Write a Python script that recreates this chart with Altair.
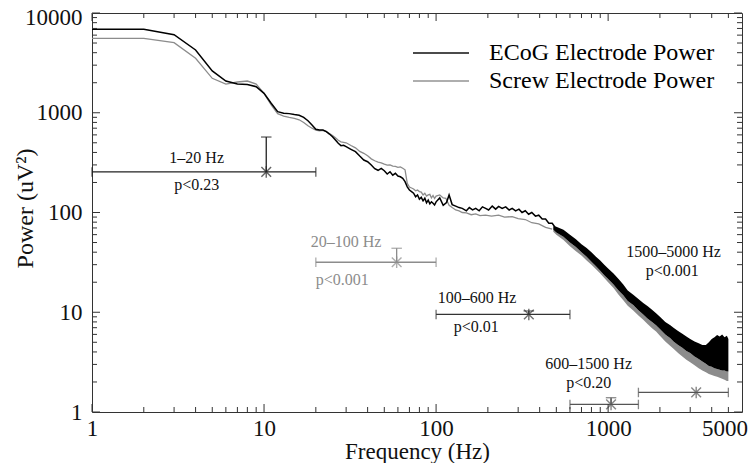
import altair as alt
import pandas as pd

# ---------------- data ----------------
ecog_freq = [1, 2, 3, 4, 5, 6, 7, 8, 9, 10, 11, 12, 13, 14, 15, 16, 17, 18, 19, 20,
             21, 22, 23, 24, 25, 26, 27, 28, 29, 30,
             32, 34, 36, 38, 40, 42, 44, 46, 48, 50, 52, 54, 56, 58, 60, 62, 64, 66, 68, 70,
             72, 74, 76, 78, 80, 82, 84, 86, 88, 90, 92, 94, 96, 98, 100,
             105, 110, 115, 119, 124, 130, 136, 142, 150, 156, 163, 170, 178, 186, 194, 202,
             212, 222, 231, 242, 254, 266, 277, 290, 303, 316, 330, 345, 360, 378, 395, 414,
             433, 452, 473, 495]
ecog_power = [6870, 6870, 6060, 4260, 2625, 2080, 1940, 1920, 1825, 1566, 1245, 1025, 987, 980,
              958, 945, 900, 832, 754, 683, 672, 671, 646, 612, 575, 533, 494, 468, 472, 457,
              430, 407, 368, 336, 323, 299, 275, 265, 277, 262, 243, 256, 237, 247, 232, 228,
              220, 204, 181, 168, 162, 156, 144, 150, 136, 142, 131, 139, 125, 133, 122, 128,
              124, 119, 128,
              140, 118, 126, 150, 120, 116, 112, 110, 104, 112, 106, 110, 104, 114, 110, 106,
              116, 108, 115, 110, 114, 106, 110, 104, 108, 100, 104, 96, 100, 92, 94, 86,
              86, 78, 78, 70]

screw_freq = [1, 2, 3, 4, 5, 6, 7, 8, 9, 10, 11, 12, 13, 14, 15, 16, 17, 18, 19, 20,
              21, 22, 23, 24, 25, 26, 27, 28, 29, 30,
              32, 34, 36, 38, 40, 42, 44, 46, 48, 50, 52, 54, 56, 58, 60, 62, 64, 66, 68, 70,
              72, 74, 76, 78, 80, 82, 84, 86, 88, 90, 92, 94, 96, 98, 100,
              105, 110, 114, 119, 124, 130, 136, 142, 150, 160, 170, 180, 194, 210, 231, 250,
              277, 300, 330, 360, 395, 433, 473]
screw_power = [5570, 5570, 5040, 3515, 2215, 1940, 2033, 2080, 1940, 1566, 1200, 980, 927, 900,
               880, 850, 800, 740, 700, 670, 660, 665, 650, 620, 590, 560, 530, 510, 505, 500,
               470, 445, 410, 392, 370, 345, 330, 320, 315, 305, 298, 300, 292, 290, 284, 286,
               278, 268, 196, 180, 176, 172, 165, 168, 162, 160, 150, 156, 146, 150, 152, 140,
               148, 138, 146,
               150, 140, 139, 118, 112, 106, 104, 100, 99, 95, 97, 93, 94, 92, 94, 90,
               91, 87, 85, 79, 77, 71, 68]

# noisy high-frequency part: envelope of the dense traces
band_freq = [480, 500, 550, 600, 650, 700, 750, 800, 850, 900, 950, 1000, 1075, 1150, 1225,
             1300, 1400, 1500, 1600, 1700, 1800, 1900, 2000, 2150, 2300, 2400, 2550, 2700,
             2850, 3000, 3180, 3360, 3530, 3700, 3850, 4000, 4150, 4300, 4450, 4600, 4750,
             4900, 5000]
ecog_low = [67, 63, 57, 50, 45, 40, 36, 32, 29, 26, 23.5, 21.5, 19, 16.5, 14.8,
            13, 11.8, 10.5, 9.5, 8.6, 8.0, 7.4, 6.8, 6.0, 5.5, 5.1, 4.7, 4.4,
            4.1, 3.9, 3.6, 3.4, 3.2, 3.05, 2.9, 2.85, 2.75, 2.7, 2.65, 2.6, 2.6,
            2.55, 2.55]
ecog_high = [73, 72, 67, 60, 54, 48, 44, 40, 36, 33, 30, 27.5, 24.5, 21.5, 19,
             16.5, 15, 13.6, 12.4, 11.5, 10.6, 9.8, 9.0, 8.0, 7.4, 7.0, 6.5, 6.1,
             5.7, 5.4, 5.1, 4.9, 4.7, 4.7, 5.0, 5.4, 5.6, 5.9, 5.7, 6.0, 5.6,
             5.8, 5.4]
screw_low = [64, 60, 53, 46, 41, 37, 33, 30, 27, 24.5, 22, 20, 17.5, 15, 13.2,
             11.6, 10.4, 9.3, 8.4, 7.6, 6.9, 6.4, 5.8, 5.1, 4.6, 4.3, 3.9, 3.6,
             3.35, 3.15, 2.95, 2.75, 2.6, 2.5, 2.4, 2.35, 2.3, 2.25, 2.2, 2.15, 2.1,
             2.05, 2.05]

series_names = ["ECoG Electrode Power", "Screw Electrode Power"]
series_colors = ["#000000", "#8c8c8c"]

# band statistics
ann_lo = [1, 20, 100, 600, 1500]
ann_hi = [20, 100, 600, 1500, 5000]
ann_freq = [10.3, 59, 346, 1040, 3250]
ann_mean = [255, 31.7, 9.5, 1.19, 1.57]
ann_err = [571, 43.8, 10.3, 1.39, 1.57]
ann_color = ["#222222", "#8c8c8c", "#333333", "#555555", "#555555"]
ann_text_color = ["#111111", "#8c8c8c", "#111111", "#111111", "#111111"]
ann_label = ["1\u201320 Hz", "20\u2013100 Hz", "100\u2013600 Hz", "600\u20131500 Hz", "1500\u20135000 Hz"]
ann_label_f = [4.06, 30, 173, 771, 2398]
ann_label_p = [352, 50.6, 13.9, 3.03, 40.2]
ann_pval = ["p<0.23", "p<0.001", "p<0.01", "p<0.20", "p<0.001"]
ann_pval_f = [4.06, 28.5, 171, 771, 2362]
ann_pval_p = [189, 21, 7.1, 1.95, 25.9]

# axis ticks
x_major = [1, 10, 100, 1000]
x_minor = [2, 3, 4, 5, 6, 7, 8, 9, 20, 30, 40, 50, 60, 70, 80, 90,
           200, 300, 400, 500, 600, 700, 800, 900, 2000, 3000, 4000, 5000]
y_major = [1, 10, 100, 1000, 10000]
y_minor = [2, 3, 4, 5, 6, 7, 8, 9, 20, 30, 40, 50, 60, 70, 80, 90,
           200, 300, 400, 500, 600, 700, 800, 900, 2000, 3000, 4000, 5000, 6000, 7000, 8000, 9000]
x_labels = [1, 10, 100, 1000, 5000]
y_labels = [1, 10, 100, 1000, 10000]

# ---------------- chart ----------------
W, H = 650, 399
FONT = "Liberation Serif"
FS = 23
xs = alt.Scale(type="log", domain=[1, 6000], nice=False)
ys = alt.Scale(type="log", domain=[1, 10000], nice=False)
cs = alt.Scale(domain=series_names, range=series_colors)

ecog_df = pd.DataFrame({"f": ecog_freq, "p": ecog_power, "s": series_names[0]})
screw_df = pd.DataFrame({"f": screw_freq, "p": screw_power, "s": series_names[1]})
band_df = pd.DataFrame({"f": band_freq, "elo": ecog_low, "ehi": ecog_high, "slo": screw_low})
ann_df = pd.DataFrame({"lo": ann_lo, "hi": ann_hi, "f": ann_freq, "m": ann_mean, "e": ann_err,
                       "c": ann_color, "tc": ann_text_color, "lab": ann_label, "lf": ann_label_f,
                       "lp": ann_label_p, "pv": ann_pval, "pf": ann_pval_f, "pp": ann_pval_p})
caps_df = pd.DataFrame({"x": ann_lo + ann_hi, "y": ann_mean + ann_mean, "c": ann_color + ann_color})
top_df = ann_df[ann_df["e"] > ann_df["m"]]

legend = alt.Legend(orient="none", legendX=334, legendY=25, title=None,
                    symbolType="M-2,0L2,0", symbolSize=784, symbolStrokeWidth=2,
                    labelFont=FONT, labelFontSize=24, labelColor="#000", labelOffset=33,
                    labelLimit=0, rowPadding=1, padding=0)

x_axis = alt.Axis(values=x_labels, format="d", ticks=False, domain=False, grid=False,
                  labelFlush=False, labelOverlap=False, labelFont=FONT, labelFontSize=FS,
                  labelColor="#111", labelPadding=5,
                  labelOffset={"condition": {"test": "datum.value == 5000", "value": -4}, "value": 0},
                  title="Frequency (Hz)", titleFont=FONT,
                  titleFontSize=FS, titleFontWeight="normal", titleColor="#111", titlePadding=0)
y_axis = alt.Axis(values=y_labels, format="d", ticks=False, domain=False, grid=False,
                  labelFlush=False, labelOverlap=False, labelFont=FONT, labelFontSize=FS,
                  labelColor="#111", labelPadding=10,
                  labelOffset={"condition": {"test": "datum.value == 10000", "value": 4}, "value": 0},
                  title="Power (uV\u00b2)", titleFont=FONT,
                  titleFontSize=24, titleFontWeight="normal", titleColor="#111",
                  titleX=-55, titleY=195)


def X(field):
    return alt.X(field, scale=xs, axis=x_axis)


def Y(field):
    return alt.Y(field, scale=ys, axis=y_axis)


screw_band = alt.Chart(band_df).mark_area(color="#8c8c8c").encode(
    x=X("f:Q"), y=Y("slo:Q"), y2="elo:Q")
ecog_band = alt.Chart(band_df).mark_area(color="#000000").encode(
    x=X("f:Q"), y=Y("elo:Q"), y2="ehi:Q")

screw_line = alt.Chart(screw_df).mark_line(strokeWidth=1.3).encode(
    x=X("f:Q"), y=Y("p:Q"), color=alt.Color("s:N", scale=cs, legend=legend))
ecog_line = alt.Chart(ecog_df).mark_line(strokeWidth=1.5).encode(
    x=X("f:Q"), y=Y("p:Q"), color=alt.Color("s:N", scale=cs, legend=legend))

hbar = alt.Chart(ann_df).mark_rule(strokeWidth=1.3).encode(
    x=X("lo:Q"), x2="hi:Q", y=Y("m:Q"), color=alt.Color("c:N", scale=None))
caps = alt.Chart(caps_df).mark_point(shape="M0,-1L0,1", size=90, strokeWidth=1.3, filled=False).encode(
    x=X("x:Q"), y=Y("y:Q"), color=alt.Color("c:N", scale=None))
vbar = alt.Chart(top_df).mark_rule(strokeWidth=1.3).encode(
    x=X("f:Q"), y=Y("m:Q"), y2="e:Q", color=alt.Color("c:N", scale=None))
topcaps = alt.Chart(top_df).mark_point(shape="M-1,0L1,0", size=110, strokeWidth=1.3, filled=False).encode(
    x=X("f:Q"), y=Y("e:Q"), color=alt.Color("c:N", scale=None))
stars = alt.Chart(ann_df).mark_point(shape="M-0.85,-0.85L0.85,0.85M-0.85,0.85L0.85,-0.85M0,-1L0,1",
                                     size=130, strokeWidth=1.4, filled=False).encode(
    x=X("f:Q"), y=Y("m:Q"), color=alt.Color("c:N", scale=None))
labels = alt.Chart(ann_df).mark_text(font=FONT, fontSize=16).encode(
    x=X("lf:Q"), y=Y("lp:Q"), text="lab:N", color=alt.Color("tc:N", scale=None))
pvals = alt.Chart(ann_df).mark_text(font=FONT, fontSize=16).encode(
    x=X("pf:Q"), y=Y("pp:Q"), text="pv:N", color=alt.Color("tc:N", scale=None))

# inward ticks on all four sides
xmaj_df = pd.DataFrame({"v": x_major})
xmin_df = pd.DataFrame({"v": x_minor})
ymaj_df = pd.DataFrame({"v": y_major})
ymin_df = pd.DataFrame({"v": y_minor})
TC = "#333333"
tick_layers = []
for df, L in [(xmaj_df, 8), (xmin_df, 5)]:
    tick_layers.append(alt.Chart(df).mark_rule(color=TC).encode(
        x=X("v:Q"), y=alt.value(H), y2=alt.value(H - L)))
    tick_layers.append(alt.Chart(df).mark_rule(color=TC).encode(
        x=X("v:Q"), y=alt.value(0), y2=alt.value(L)))
for df, L in [(ymaj_df, 8), (ymin_df, 5)]:
    tick_layers.append(alt.Chart(df).mark_rule(color=TC).encode(
        y=Y("v:Q"), x=alt.value(0), x2=alt.value(L)))
    tick_layers.append(alt.Chart(df).mark_rule(color=TC).encode(
        y=Y("v:Q"), x=alt.value(W), x2=alt.value(W - L)))

chart = alt.layer(
    screw_line, screw_band, ecog_line, ecog_band,
    hbar, vbar, caps, topcaps, stars, labels, pvals, *tick_layers
).properties(
    width=W, height=H,
    autosize=alt.AutoSizeParams(type="none"),
    padding={"left": 84, "top": 5, "right": 6, "bottom": 51},
    background="white",
).configure_view(stroke="#333333", strokeWidth=1)

chart.save("out.html", embed_options={"renderer": "svg", "actions": False})
